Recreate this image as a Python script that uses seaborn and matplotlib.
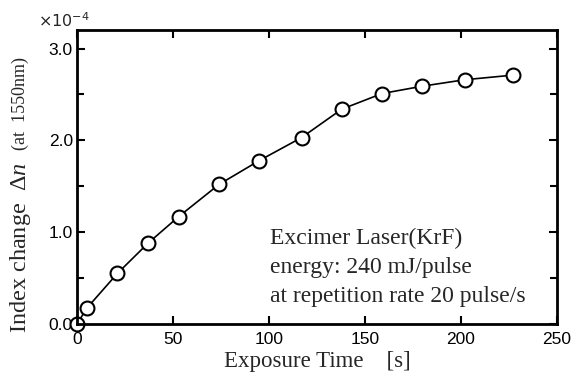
import numpy as np
import pandas as pd
import matplotlib
matplotlib.use('Agg')
import matplotlib.pyplot as plt
from matplotlib.ticker import MultipleLocator, FormatStrFormatter
import seaborn as sns

# exposure time [s] and index change (x1e-4)
exposure_time = [0, 5, 21, 37, 53, 74, 95, 117, 138, 159, 180, 202, 227]
index_change = [0.0, 0.17, 0.55, 0.88, 1.17, 1.52, 1.78, 2.03, 2.34, 2.51, 2.59, 2.66, 2.71]

df = pd.DataFrame({'time': exposure_time, 'dn': index_change})

sns.set_theme(style='ticks')
plt.rcParams['font.family'] = ['Liberation Sans', 'DejaVu Sans']
plt.rcParams['mathtext.fontset'] = 'custom'
plt.rcParams['mathtext.rm'] = 'Liberation Serif'
plt.rcParams['mathtext.it'] = 'Liberation Serif:italic'

fig = plt.figure(figsize=(5.71, 3.82), dpi=100)
ax = fig.add_axes([0.135, 0.152, 0.84, 0.769])

sns.lineplot(data=df, x='time', y='dn', ax=ax, color='black', linewidth=1.2,
             marker='o', markersize=10, markerfacecolor='white',
             markeredgecolor='black', markeredgewidth=1.5)
for l in ax.lines:
    l.set_clip_on(False)

ax.set_xlim(0, 250)
ax.set_ylim(0, 3.2)
ax.xaxis.set_major_locator(MultipleLocator(50))
ax.yaxis.set_major_locator(MultipleLocator(1.0))
ax.yaxis.set_minor_locator(MultipleLocator(0.5))
ax.yaxis.set_major_formatter(FormatStrFormatter('%.1f'))
ax.tick_params(which='both', direction='in', top=True, right=True,
               width=1.5, labelsize=12.5, colors='black')
ax.tick_params(axis='x', pad=6)
ax.tick_params(axis='y', pad=3)
ax.tick_params(which='major', length=6)
ax.tick_params(which='minor', length=5)
for s in ax.spines.values():
    s.set_linewidth(2)
    s.set_color('black')

serif = ['Liberation Serif', 'DejaVu Serif']
ax.set_xlabel('Exposure Time    [s]', fontsize=16.5, family=serif, labelpad=3)
ax.set_ylabel('')
fig.text(0.036, 0.351, r'Index change  $\Delta\mathit{n}$', rotation=90, fontsize=17.5,
         family=serif, ha='center', va='center')
fig.text(0.036, 0.728, '(at  1550nm)', rotation=90, fontsize=13,
         family=serif, ha='center', va='center')
fig.text(0.066, 0.945, r'$\times 10^{-4}$', fontsize=11.5, ha='left', va='center',
         math_fontfamily='dejavusans')

ax.text(100.5, 1.05, 'Excimer Laser(KrF)\nenergy: 240 mJ/pulse\nat repetition rate 20 pulse/s',
        fontsize=17, family=serif, ha='left', va='top', linespacing=1.5,
        transform=ax.transData)

fig.savefig('out.png', dpi=100)
